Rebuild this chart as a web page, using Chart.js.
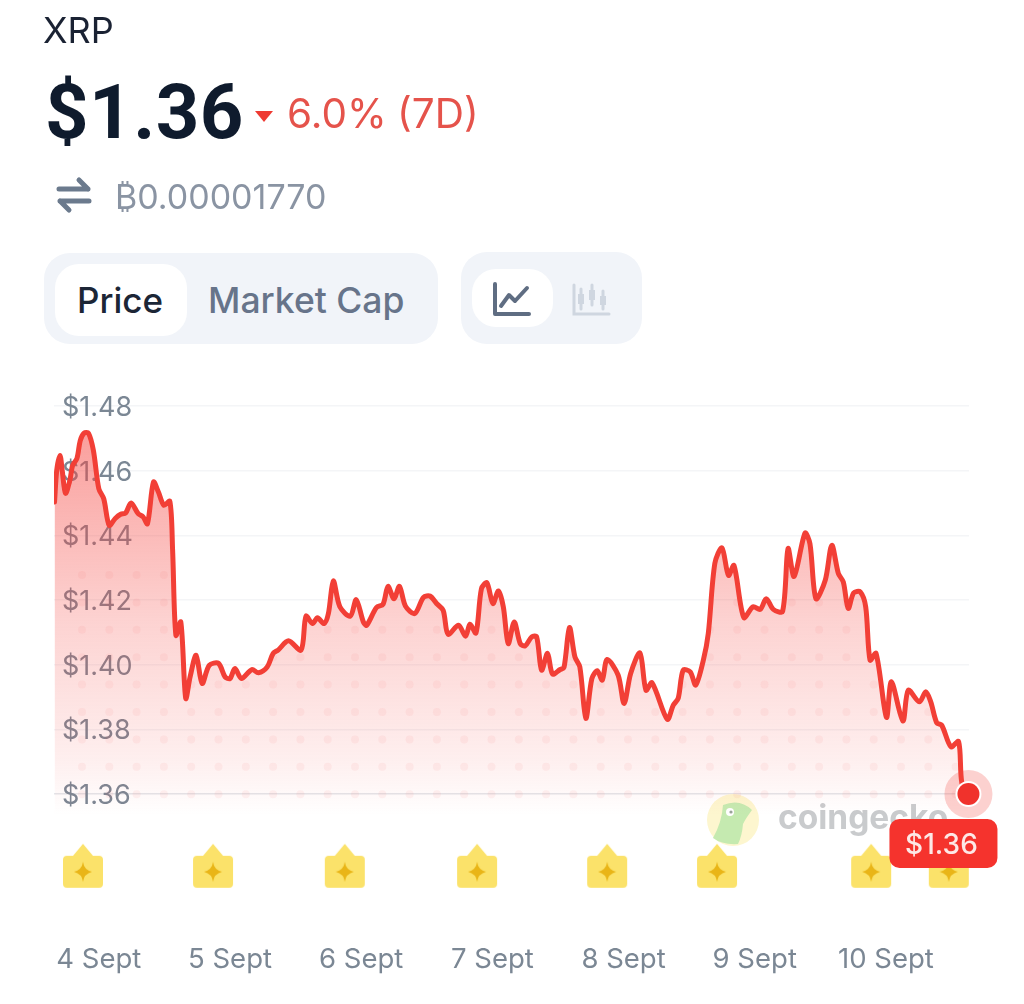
<!DOCTYPE html>
<html>
<head>
<meta charset="utf-8">
<title>XRP price chart</title>
<script src="https://cdn.jsdelivr.net/npm/chart.js@4"></script>
<style>
  html, body { margin: 0; padding: 0; background: #fff; }
  body { width: 1024px; height: 1004px; position: relative; overflow: hidden; font-family: Inter, sans-serif; }
  #price-chart { position: absolute; left: 0; top: 0; }
  .abs { position: absolute; white-space: nowrap; line-height: 1; }
  .box { position: absolute; }
</style>
</head>
<body>
<canvas id="price-chart" width="1024" height="1004"></canvas>

<div class="abs" id="coin" style="left:43px;top:12px;font-size:36px;color:#1a2233;">XRP</div>
<div class="abs" id="price" style="left:45px;top:74px;font-size:76px;font-weight:700;font-family:Roboto,sans-serif;color:#0f1b2d;letter-spacing:0.5px;">$1.36</div>
<svg class="box" style="left:254px;top:110px" width="20" height="13"><path d="M1 1H19L10 12Z" fill="#ee3a32"/></svg>
<div class="abs" id="change" style="left:287px;top:94px;font-size:40.5px;color:#e5534b;word-spacing:-1px;">6.0% (7D)</div>
<svg class="box" style="left:55px;top:176px" width="38" height="38" fill="none" stroke="#6b7a8d" stroke-width="5" stroke-linecap="round" stroke-linejoin="round">
  <path d="M4 13H33M24 4L33 13"/><path d="M34 25H5M14 34L5 25"/>
</svg>
<div class="abs" id="btc" style="left:115px;top:180px;font-size:34px;color:#8a94a3;">₿0.00001770</div>

<div class="box" style="left:44px;top:253px;width:394px;height:91px;background:#f1f4f9;border-radius:26px;"></div>
<div class="box" style="left:55px;top:264px;width:132px;height:72px;background:#fff;border-radius:24px;"></div>
<div class="abs" style="left:77px;top:283px;font-size:35px;font-weight:500;color:#1c2636;">Price</div>
<div class="abs" style="left:208px;top:283px;font-size:35.5px;font-weight:500;color:#67748a;">Market Cap</div>

<div class="box" style="left:461px;top:252px;width:181px;height:92px;background:#f1f4f9;border-radius:26px;"></div>
<div class="box" style="left:472px;top:269px;width:81px;height:58px;background:#fff;border-radius:24px;"></div>
<svg class="box" style="left:491px;top:281px" width="42" height="38" fill="none" stroke="#5f6d82" stroke-width="4" stroke-linecap="round" stroke-linejoin="round">
  <path d="M4 3V33H38"/><path d="M10 25L18 14L24 20L36 7"/>
</svg>
<svg class="box" style="left:571px;top:281px" width="42" height="38" fill="none" stroke="#cfd6e0" stroke-width="3" stroke-linecap="round">
  <path d="M3 4V33H38"/>
  <path d="M10 8V28M21 4V24M32 10V28"/>
  <path stroke-width="6" stroke-linecap="butt" d="M10 13V23M21 9V19M32 15V24"/>
</svg>

<script>
// values
const hours = [
  0.1, 0.5, 1.1, 1.5, 2.1, 2.9, 3.4, 4.2, 4.8, 5.5, 6.3, 7.2, 8.2, 9.1, 10.1, 11.2, 12.2, 13.1, 14.1, 15.4,
  16.3, 17.1, 18.2, 19.1, 20.1, 21.2, 21.7, 22.3, 23.2, 24.1, 24.9, 26.0, 27.1, 28.4, 30.1, 31.3, 32.2, 33.1, 34.3, 36.2,
  37.4, 39.0, 40.1, 41.0, 42.9, 45.2, 46.1, 47.3, 48.2, 49.4, 50.2, 51.1, 52.3, 54.2, 55.3, 56.6, 57.2, 59.0, 60.2, 61.1,
  62.2, 63.2, 64.3, 66.0, 67.6, 68.8, 70.0, 71.2, 72.1, 74.0, 75.3, 76.1, 77.2, 78.2, 79.2, 80.3, 81.3, 82.2, 83.1, 84.2,
  85.3, 86.2, 87.4, 88.3, 89.2, 90.3, 91.2, 92.6, 93.3, 94.3, 95.3, 96.2, 97.3, 98.4, 99.4, 100.3, 101.2, 103.2, 104.3, 105.5,
  107.2, 108.3, 109.4, 112.2, 113.3, 114.2, 115.1, 116.4, 117.4, 118.8, 119.7, 120.9, 122.2, 123.4, 124.4, 126.2, 127.9, 129.2, 130.3, 131.6,
  133.3, 134.3, 135.4, 137.4, 138.3, 139.4, 141.1, 142.3, 143.5, 144.4, 145.3, 146.3, 147.5, 148.5, 149.3, 150.4, 152.3, 153.2, 155.3, 156.3,
  158.3, 159.5, 160.4, 161.5, 162.4, 164.1, 165.5, 166.1, 167.3
];
const prices = [
  1.4503, 1.4601, 1.4647, 1.4601, 1.4530, 1.4570, 1.4616, 1.4638, 1.4693, 1.4716, 1.4716, 1.4663, 1.4544, 1.4513, 1.4431, 1.4452, 1.4465, 1.4469, 1.4500, 1.4467,
  1.4457, 1.4436, 1.4565, 1.4534, 1.4493, 1.4505, 1.4354, 1.4091, 1.4132, 1.3896, 1.3962, 1.4029, 1.3942, 1.3998, 1.4004, 1.3962, 1.3957, 1.3988, 1.3957, 1.3985,
  1.3975, 1.3993, 1.4035, 1.4045, 1.4074, 1.4045, 1.4150, 1.4127, 1.4145, 1.4127, 1.4158, 1.4259, 1.4179, 1.4150, 1.4201, 1.4132, 1.4122, 1.4177, 1.4187, 1.4242,
  1.4204, 1.4242, 1.4181, 1.4158, 1.4208, 1.4212, 1.4189, 1.4168, 1.4094, 1.4122, 1.4088, 1.4125, 1.4098, 1.4235, 1.4253, 1.4189, 1.4228, 1.4179, 1.4065, 1.4132,
  1.4065, 1.4058, 1.4086, 1.4086, 1.3983, 1.4035, 1.3971, 1.3985, 1.3991, 1.4115, 1.4024, 1.3993, 1.3834, 1.3957, 1.3981, 1.3952, 1.4016, 1.3968, 1.3880, 1.3973,
  1.4036, 1.3921, 1.3944, 1.3831, 1.3875, 1.3896, 1.3983, 1.3978, 1.3937, 1.4014, 1.4096, 1.4313, 1.4361, 1.4276, 1.4307, 1.4146, 1.4179, 1.4171, 1.4204, 1.4171,
  1.4165, 1.4359, 1.4273, 1.4407, 1.4374, 1.4204, 1.4261, 1.4369, 1.4282, 1.4256, 1.4174, 1.4222, 1.4225, 1.4179, 1.4014, 1.4035, 1.3837, 1.3947, 1.3826, 1.3921,
  1.3885, 1.3916, 1.3885, 1.3820, 1.3813, 1.3746, 1.3762, 1.3633, 1.3600
];
const eventHours = [5.3, 29.1, 53.2, 77.4, 101.2, 121.3, 149.5, 163.7];
const eventLevel = 1.3378;
const dayTicks = [8.2, 32.2, 56.2, 80.2, 104.2, 128.2, 152.2];
const dayLabels = ['4 Sept', '5 Sept', '6 Sept', '7 Sept', '8 Sept', '9 Sept', '10 Sept'];
const priceTicks = [1.36, 1.38, 1.40, 1.42, 1.44, 1.46, 1.48];

const RED = '#f23f36';
const GREY = '#7b8794';
const FONT = "Inter, sans-serif";

// area fill: fading red plus the faint dot texture of the watermark
function makeAreaFill(ctx) {
  const off = document.createElement('canvas');
  off.width = 1024;
  off.height = 1004;
  const o = off.getContext('2d');
  const g = o.createLinearGradient(0, 430, 0, 815);
  g.addColorStop(0, 'rgba(245, 70, 65, 0.52)');
  g.addColorStop(0.5, 'rgba(245, 70, 65, 0.24)');
  g.addColorStop(0.85, 'rgba(245, 70, 65, 0.09)');
  g.addColorStop(1, 'rgba(245, 70, 65, 0)');
  o.fillStyle = g;
  o.fillRect(0, 0, 1024, 1004);
  o.fillStyle = 'rgba(235, 90, 90, 0.07)';
  for (let y = 575; y < 800; y += 27.4) {
    for (let x = 82; x < 960; x += 27.3) {
      o.beginPath();
      o.arc(x, y, 4, 0, Math.PI * 2);
      o.fill();
    }
  }
  return ctx.createPattern(off, 'no-repeat');
}

// yellow tag used for the event markers
function makeEventIcon() {
  const c = document.createElement('canvas');
  c.width = 44;
  c.height = 46;
  const o = c.getContext('2d');
  o.fillStyle = '#fbe26a';
  o.beginPath();
  o.moveTo(22, 1);
  o.lineTo(32, 13);
  o.lineTo(38, 13);
  o.quadraticCurveTo(42, 13, 42, 17);
  o.lineTo(42, 41);
  o.quadraticCurveTo(42, 45, 38, 45);
  o.lineTo(6, 45);
  o.quadraticCurveTo(2, 45, 2, 41);
  o.lineTo(2, 17);
  o.quadraticCurveTo(2, 13, 6, 13);
  o.lineTo(12, 13);
  o.closePath();
  o.fill();
  o.fillStyle = '#e9b517';
  o.beginPath();
  o.moveTo(22, 19);
  o.quadraticCurveTo(23, 27, 31, 29);
  o.quadraticCurveTo(23, 31, 22, 39);
  o.quadraticCurveTo(21, 31, 13, 29);
  o.quadraticCurveTo(21, 27, 22, 19);
  o.fill();
  return c;
}

// coingecko mark behind the line
const watermark = {
  id: 'watermark',
  beforeDatasetsDraw(chart) {
    const c = chart.ctx;
    c.save();
    c.fillStyle = '#fdf6cf';
    c.beginPath();
    c.arc(733, 820, 26, 0, Math.PI * 2);
    c.fill();
    c.fillStyle = '#c5eab0';
    c.beginPath();
    c.moveTo(723, 805);
    c.quadraticCurveTo(740, 798, 752, 810);
    c.quadraticCurveTo(746, 818, 743, 824);
    c.quadraticCurveTo(742, 836, 738, 844);
    c.quadraticCurveTo(722, 845, 713, 838);
    c.quadraticCurveTo(722, 822, 723, 805);
    c.fill();
    c.fillStyle = '#fff';
    c.beginPath();
    c.arc(730, 812, 4, 0, Math.PI * 2);
    c.fill();
    c.fillStyle = '#9aa39a';
    c.beginPath();
    c.arc(731, 812, 1.6, 0, Math.PI * 2);
    c.fill();
    c.font = '700 33.5px ' + FONT;
    c.fillStyle = '#c9cbcd';
    c.textBaseline = 'middle';
    c.fillText('coingecko', 778, 819);
    c.restore();
  }
};

// last price dot and its badge
const lastPrice = {
  id: 'lastPrice',
  afterDatasetsDraw(chart) {
    const c = chart.ctx;
    const x = chart.scales.x.getPixelForValue(hours[hours.length - 1]);
    const y = chart.scales.y.getPixelForValue(prices[prices.length - 1]);
    c.save();
    c.fillStyle = 'rgba(242, 70, 65, 0.25)';
    c.beginPath();
    c.arc(x, y, 24, 0, Math.PI * 2);
    c.fill();
    c.fillStyle = '#fff';
    c.beginPath();
    c.arc(x, y, 13, 0, Math.PI * 2);
    c.fill();
    c.fillStyle = '#f0322c';
    c.beginPath();
    c.arc(x, y, 11, 0, Math.PI * 2);
    c.fill();
    c.fillStyle = '#f5332d';
    c.beginPath();
    c.roundRect(x - 79, y + 25, 108, 49, 10);
    c.fill();
    c.fillStyle = '#fde8e6';
    c.font = '500 28px ' + FONT;
    c.textAlign = 'center';
    c.textBaseline = 'middle';
    c.fillText('$1.36', x - 27, y + 52);
    c.restore();
  }
};

const ctx = document.getElementById('price-chart').getContext('2d');

new Chart(ctx, {
  type: 'line',
  plugins: [watermark, lastPrice],
  data: {
    datasets: [
      {
        label: 'Events',
        data: eventHours.map(h => ({ x: h, y: eventLevel })),
        showLine: false,
        pointStyle: makeEventIcon(),
        pointRadius: 22,
        order: 0
      },
      {
        label: 'XRP',
        data: hours.map((h, i) => ({ x: h, y: prices[i] })),
        borderColor: RED,
        borderWidth: 5,
        backgroundColor: makeAreaFill(ctx),
        fill: 'start',
        tension: 0.3,
        pointRadius: 0,
        borderJoinStyle: 'round',
        borderCapStyle: 'round',
        order: 1
      }
    ]
  },
  options: {
    responsive: false,
    animation: false,
    layout: { padding: { left: 54, right: 55, top: 406, bottom: 0 } },
    plugins: { legend: { display: false }, tooltip: { enabled: false } },
    scales: {
      x: {
        type: 'linear',
        min: 0,
        max: 167.4,
        afterBuildTicks(axis) { axis.ticks = dayTicks.map(v => ({ value: v })); },
        afterFit(axis) { axis.height = 113; },
        grid: { display: false },
        border: { display: false },
        ticks: {
          autoSkip: false,
          maxRotation: 0,
          padding: 44,
          color: GREY,
          font: { family: FONT, size: 27.5 },
          callback: (v, i) => dayLabels[i]
        }
      },
      y: {
        min: 1.33,
        max: 1.48,
        afterBuildTicks(axis) { axis.ticks = priceTicks.map(v => ({ value: v })); },
        afterFit(axis) { axis.width = 0; },
        border: { display: false },
        grid: {
          drawTicks: false,
          lineWidth: 1.5,
          color: c => (c.tick && c.tick.value === 1.36 ? '#e4e6ea' : '#f4f5f7')
        },
        ticks: {
          mirror: true,
          padding: 8,
          labelOffset: 2,
          color: GREY,
          font: { family: FONT, size: 27 },
          callback: v => '$' + v.toFixed(2)
        }
      }
    }
  }
});
</script>
</body>
</html>
